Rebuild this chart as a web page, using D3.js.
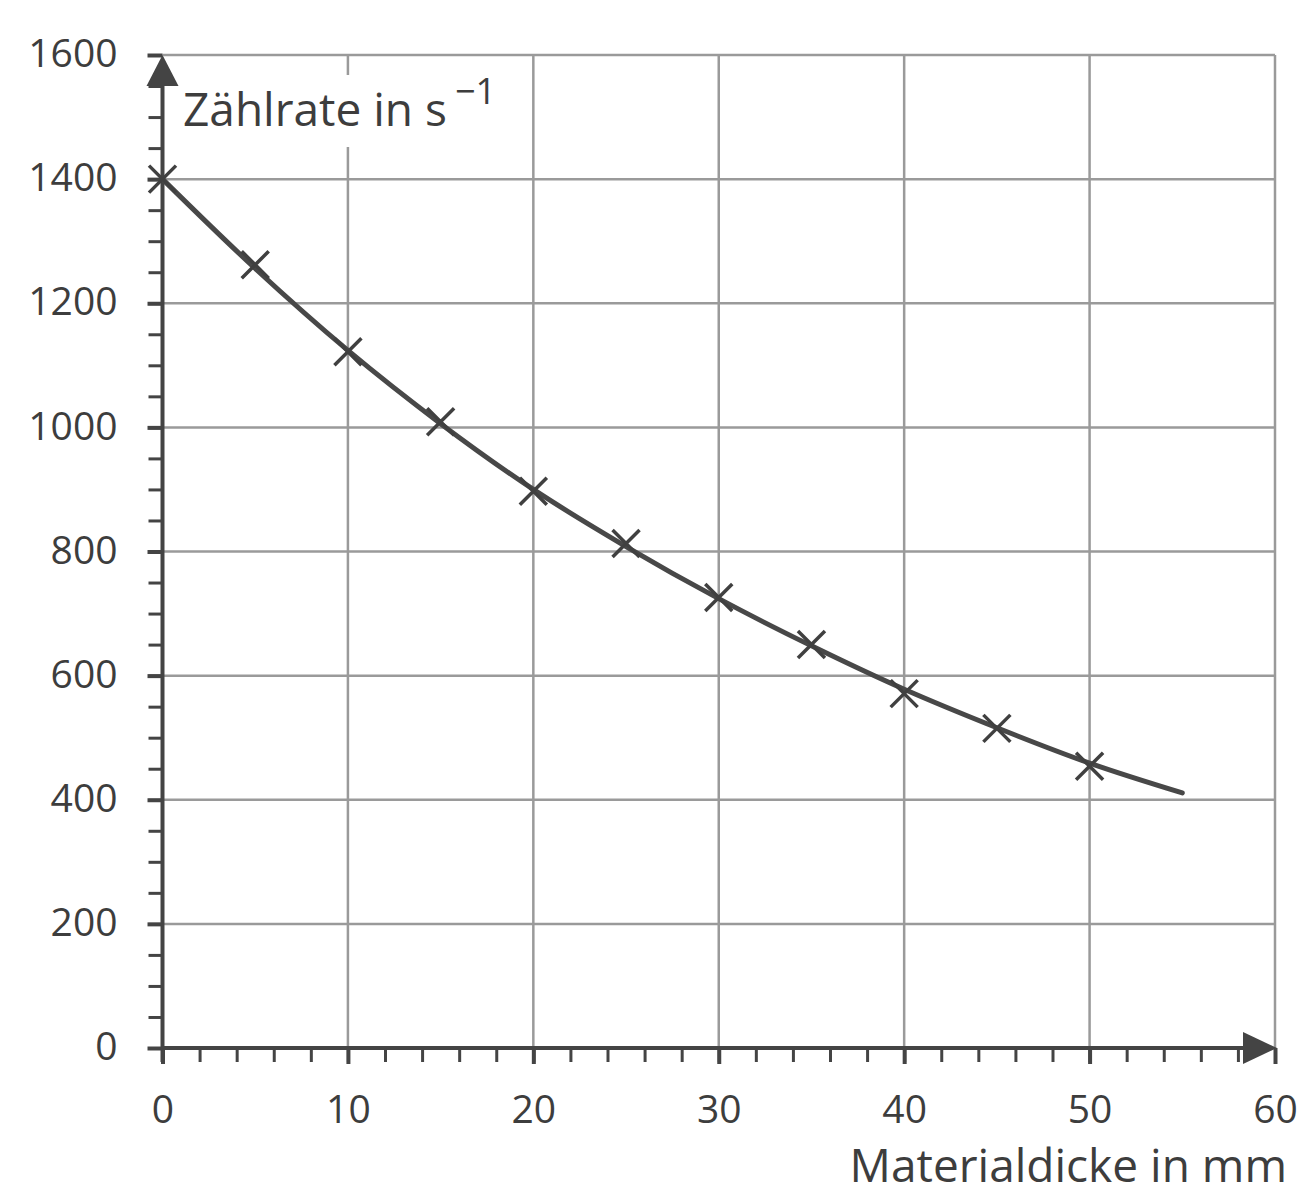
<!DOCTYPE html>
<html>
<head>
<meta charset="utf-8">
<script src="https://cdn.jsdelivr.net/npm/d3@7"></script>
<style>
  body { margin: 0; background: #fff; }
  text { font-family: "Open Sans", "Noto Sans", sans-serif; fill: #3d3d3d; }
</style>
</head>
<body>
<script>
// measured points (crosses)
const thickness = [0, 5, 10, 15, 20, 25, 30, 35, 40, 45, 50];
const countRate = [1400, 1262, 1122, 1009, 897, 813, 726, 650, 571, 515, 454];

// fitted curve
const curveX = [0, 5, 10, 15, 20, 25, 30, 35, 40, 45, 50, 55];
const curveY = [1400, 1256, 1124, 1006, 900, 808, 724, 648, 578, 516, 459, 411];

const xTicks = [0, 10, 20, 30, 40, 50, 60];
const xMinor = d3.range(0, 60, 2);
const yTicks = [0, 200, 400, 600, 800, 1000, 1200, 1400, 1600];
const yMinor = d3.range(0, 1600, 50);

const width = 1312, height = 1199;
const axisColor = "#444", gridColor = "#9a9a9a";

let x = d3.scaleLinear().domain([0, 60]).range([162.5, 1275]);
let y = d3.scaleLinear().domain([0, 1600]).range([1048, 55]);

const svg = d3.select("body").append("svg")
  .attr("width", width)
  .attr("height", height);

// grid
svg.append("g").selectAll("line")
  .data(xTicks.slice(1))
  .enter().append("line")
  .attr("x1", d => x(d)).attr("x2", d => x(d))
  .attr("y1", y(1600)).attr("y2", y(0))
  .attr("stroke", gridColor).attr("stroke-width", 2.5);

svg.append("g").selectAll("line")
  .data(yTicks.slice(1))
  .enter().append("line")
  .attr("x1", x(0)).attr("x2", x(60))
  .attr("y1", d => y(d)).attr("y2", d => y(d))
  .attr("stroke", gridColor).attr("stroke-width", 2.5);

// white box behind the y title
svg.append("rect")
  .attr("x", x(0) + 14).attr("y", 75)
  .attr("width", 345).attr("height", 72)
  .attr("fill", "#fff");

// minor ticks
svg.append("g")
  .attr("transform", `translate(0,${y(0)})`)
  .call(d3.axisBottom(x).tickValues(xMinor).tickSize(14).tickFormat(""))
  .call(g => g.select(".domain").remove())
  .call(g => g.selectAll("line").attr("stroke", axisColor).attr("stroke-width", 3));

svg.append("g")
  .attr("transform", `translate(${x(0)},0)`)
  .call(d3.axisLeft(y).tickValues(yMinor).tickSize(14).tickFormat(""))
  .call(g => g.select(".domain").remove())
  .call(g => g.selectAll("line").attr("stroke", axisColor).attr("stroke-width", 3));

// major ticks + labels
let xAxis = d3.axisBottom(x).tickValues(xTicks).tickSize(16).tickFormat(d3.format("d"));
let yAxis = d3.axisLeft(y).tickValues(yTicks).tickSize(15).tickPadding(30).tickFormat(d3.format("d"));

svg.append("g")
  .attr("transform", `translate(0,${y(0)})`)
  .call(xAxis)
  .call(g => g.select(".domain").remove())
  .call(g => g.selectAll("line").attr("stroke", axisColor).attr("stroke-width", 4))
  .call(g => g.selectAll("text")
    .attr("y", 75).attr("dy", 0)
    .style("font-size", "39px").style("font-family", null).attr("fill", null));

svg.append("g")
  .attr("transform", `translate(${x(0)},0)`)
  .call(yAxis)
  .call(g => g.select(".domain").remove())
  .call(g => g.selectAll("line").attr("stroke", axisColor).attr("stroke-width", 4))
  .call(g => g.selectAll("text")
    .attr("dy", "0.3em")
    .style("font-size", "39px").style("font-family", null).attr("fill", null));

// axis lines with arrows
svg.append("line")
  .attr("x1", x(0)).attr("x2", x(60) - 30)
  .attr("y1", y(0)).attr("y2", y(0))
  .attr("stroke", axisColor).attr("stroke-width", 4);
svg.append("path")
  .attr("d", `M${x(60) + 2},${y(0)} L${x(60) - 32},${y(0) - 16} L${x(60) - 32},${y(0) + 16} Z`)
  .attr("fill", axisColor);

svg.append("line")
  .attr("x1", x(0)).attr("x2", x(0))
  .attr("y1", y(0) + 14).attr("y2", y(1600) + 28)
  .attr("stroke", axisColor).attr("stroke-width", 4);
svg.append("path")
  .attr("d", `M${x(0)},${y(1600)} L${x(0) - 16},${y(1600) + 31} L${x(0) + 16},${y(1600) + 31} Z`)
  .attr("fill", axisColor);

// fitted curve
const line = d3.line()
  .x(d => x(d[0]))
  .y(d => y(d[1]))
  .curve(d3.curveMonotoneX);

svg.append("path")
  .datum(d3.zip(curveX, curveY))
  .attr("d", line)
  .attr("fill", "none")
  .attr("stroke", "#484848")
  .attr("stroke-width", 5)
  .attr("stroke-linecap", "round");

// crosses
const s = 13.5;
svg.append("g").selectAll("path")
  .data(d3.zip(thickness, countRate))
  .enter().append("path")
  .attr("transform", d => `translate(${x(d[0])},${y(d[1])})`)
  .attr("d", `M${-s},${-s}L${s},${s}M${-s},${s}L${s},${-s}`)
  .attr("stroke", "#404040")
  .attr("stroke-width", 3.5)
  .attr("fill", "none");

// axis titles
const yTitle = svg.append("text")
  .attr("x", 183).attr("y", 126)
  .style("font-size", "46px");
yTitle.append("tspan").text("Zählrate in s");
yTitle.append("tspan").attr("dx", 8).attr("dy", -22).style("font-size", "36px").text("−1");

svg.append("text")
  .attr("x", 1287).attr("y", 1182)
  .attr("text-anchor", "end")
  .style("font-size", "46px")
  .text("Materialdicke in mm");
</script>
</body>
</html>
